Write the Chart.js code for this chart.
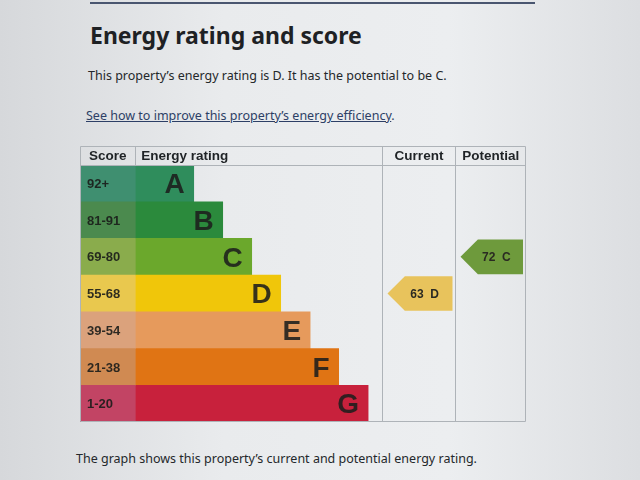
<!DOCTYPE html>
<html><head><meta charset="utf-8">
<script src="https://cdn.jsdelivr.net/npm/chart.js@4/dist/chart.umd.min.js"></script>
<style>
html,body{margin:0;padding:0;width:640px;height:480px;overflow:hidden;background:#e4e6e9;font-family:"Noto Sans",sans-serif;color:#24282b}
#page{position:absolute;left:0;top:0;width:640px;height:480px;background:linear-gradient(90deg,#d6d8db 0%,#e9ebed 35%,#eceef0 70%,#dcdee1 100%)}
.t{position:absolute;white-space:nowrap}
#title{left:90px;top:19px;font-size:23px;font-weight:700;color:#1e2124}
#p1{left:88px;top:67px;font-size:12.5px}
#link{left:86px;top:107px;font-size:12.5px;color:#2d3f66}
#link u{text-decoration:underline}
#p2{left:76px;top:450px;font-size:12.5px}
#topline{position:absolute;left:90px;top:2px;width:445px;height:2px;background:#4a5670}
#wrap{position:absolute;left:80px;top:146px;width:446px;height:276px}
</style></head>
<body>
<div id="page"></div>
<div id="topline"></div>
<div class="t" id="title">Energy rating and score</div>
<div class="t" id="p1">This property’s energy rating is D. It has the potential to be C.</div>
<div class="t" id="link"><u>See how to improve this property’s energy efficiency</u>.</div>
<div class="t" id="p2">The graph shows this property’s current and potential energy rating.</div>
<div id="wrap"><canvas id="c" width="446" height="276"></canvas></div>
<script>
const bands = ['A','B','C','D','E','F','G'];
const scoreRanges = ['92+','81-91','69-80','55-68','39-54','21-38','1-20'];
const bandLengths = [25.5, 32, 38.5, 45, 51.6, 58, 64.6];
const currentScore = 63, currentBand = 'D';
const potentialScore = 72, potentialBand = 'C';
const headers = ['Score','Energy rating','Current','Potential'];

const bandColors = ['#2f8d5c','#2b8a3c','#6ba82c','#f0c60a','#e69a5c','#e07414','#c8213c'];
const scoreColors = ['#3f8f70','#4b8a4e','#8aac4c','#e9c84e','#dba27c','#d08a52','#c24464'];
const currentColor = '#e8c35c', potentialColor = '#6e9a3c';

const SCORE_END = 12.4, CUR_START = 67.8, POT_START = 84, X_END = 100;

const tablePlugin = {
  id: 'epcTable',
  afterDatasetsDraw(chart) {
    const ctx = chart.ctx, xs = chart.scales.x, ys = chart.scales.y, a = chart.chartArea;
    const W = chart.width, H = chart.height;
    const rowH = (a.bottom - a.top) / bands.length;
    ctx.save();
    ctx.strokeStyle = '#aeb3b8'; ctx.lineWidth = 1;
    const xc = Math.round(xs.getPixelForValue(CUR_START)) + 0.5;
    const xp = Math.round(xs.getPixelForValue(POT_START)) + 0.5;
    const xsE = Math.round(xs.getPixelForValue(SCORE_END)) + 0.5;
    ctx.beginPath();
    ctx.rect(0.5, 0.5, W - 1, H - 1);
    ctx.moveTo(0, Math.round(a.top) + 0.5); ctx.lineTo(W, Math.round(a.top) + 0.5);
    ctx.moveTo(xc, 0); ctx.lineTo(xc, H);
    ctx.moveTo(xp, 0); ctx.lineTo(xp, H);
    ctx.moveTo(xsE, 0); ctx.lineTo(xsE, a.top);
    ctx.stroke();
    ctx.fillStyle = '#1f2326';
    ctx.font = 'bold 13.5px "Liberation Sans", Arial, sans-serif';
    ctx.textBaseline = 'middle';
    const hy = a.top / 2 + 1;
    ctx.textAlign = 'center';
    ctx.fillText(headers[0], xs.getPixelForValue(SCORE_END / 2), hy);
    ctx.textAlign = 'left';
    ctx.fillText(headers[1], xs.getPixelForValue(SCORE_END) + 6, hy);
    ctx.textAlign = 'center';
    ctx.fillText(headers[2], (xc + xp) / 2, hy);
    ctx.fillText(headers[3], (xp + W) / 2, hy);
    bands.forEach((b, i) => {
      const y = ys.getPixelForValue(i);
      ctx.fillStyle = 'rgba(25,28,25,0.9)';
      ctx.font = 'bold 13px "Liberation Sans", Arial, sans-serif';
      ctx.textAlign = 'left';
      ctx.fillText(scoreRanges[i], xs.getPixelForValue(0) + 7, y + 1);
      ctx.font = 'bold 28px "Liberation Sans", Arial, sans-serif';
      ctx.textAlign = 'right';
      ctx.fillStyle = 'rgba(28,30,28,0.88)';
      ctx.fillText(b, xs.getPixelForValue(bandLengths[i]) - 9, y + 2);
    });
    function arrow(score, band, x0, x1, color) {
      const i = bands.indexOf(band);
      const y = ys.getPixelForValue(i);
      const h = rowH - 2;
      const tip = x0 + 5, right = x1 - 3, bodyL = tip + h / 2;
      ctx.fillStyle = color;
      ctx.beginPath();
      ctx.moveTo(tip, y);
      ctx.lineTo(bodyL, y - h / 2);
      ctx.lineTo(right, y - h / 2);
      ctx.lineTo(right, y + h / 2);
      ctx.lineTo(bodyL, y + h / 2);
      ctx.closePath();
      ctx.fill();
      ctx.fillStyle = '#2a2a22';
      ctx.font = 'bold 12px "Liberation Sans", Arial, sans-serif';
      ctx.textAlign = 'center';
      ctx.fillText(score + '  ' + band, (bodyL + right) / 2 - 4, y + 1);
    }
    arrow(currentScore, currentBand, xc, xp, currentColor);
    arrow(potentialScore, potentialBand, xp, W, potentialColor);
    ctx.restore();
  }
};

new Chart(document.getElementById('c'), {
  type: 'bar',
  data: {
    labels: bands,
    datasets: [
      { data: bands.map(() => [0, SCORE_END]), backgroundColor: scoreColors, borderWidth: 0 },
      { data: bandLengths.map(v => [SCORE_END, v]), backgroundColor: bandColors, borderWidth: 0 }
    ]
  },
  options: {
    indexAxis: 'y',
    responsive: false,
    animation: false,
    datasets: { bar: { barPercentage: 1, categoryPercentage: 1, grouped: false } },
    layout: { padding: { top: 19, left: 0, right: 0, bottom: 0 } },
    plugins: { legend: { display: false }, tooltip: { enabled: false } },
    scales: {
      x: { type: 'linear', min: 0, max: X_END, display: false },
      y: { type: 'category', display: false }
    }
  },
  plugins: [tablePlugin]
});
</script>
</body></html>
